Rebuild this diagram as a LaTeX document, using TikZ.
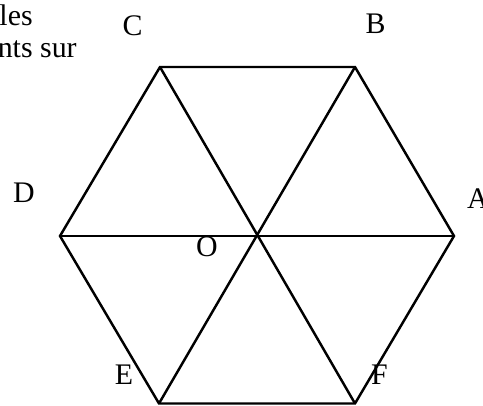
\documentclass[tikz,border=0pt]{standalone}
\usepackage{fontspec}
\setmainfont{Liberation Serif}
\usepackage{tikz}

\begin{document}
\begin{tikzpicture}[
    edge/.style={line width=1.4pt, line join=miter},
    vlabel/.style={font=\fontsize{17}{20}\selectfont, inner sep=0pt},
    cuttext/.style={font=\fontsize{17}{20}\selectfont, inner sep=0pt, anchor=base east},
]
\useasboundingbox (0,0) rectangle (9.66,8.10);

% === VERTICES ===
\coordinate (A) at (9.08,3.38);
\coordinate (B) at (7.10,6.76);
\coordinate (C) at (3.20,6.76);
\coordinate (D) at (1.20,3.38);
\coordinate (E) at (3.18,0.03);
\coordinate (F) at (7.10,0.03);
\coordinate (O) at (5.14,3.38);

% === HEXAGON AND DIAGONALS ===
\draw[edge] (A) -- (B) -- (C) -- (D) -- (E) -- (F) -- cycle;
\draw[edge] (A) -- (D);
\draw[edge] (B) -- (E);
\draw[edge] (C) -- (F);

% === LABELS ===
\node[vlabel] (labA) at (9.56,4.12) {A};
\node[vlabel] (labB) at (7.51,7.62) {B};
\node[vlabel] (labC) at (2.65,7.58) {C};
\node[vlabel] (labD) at (0.48,4.25) {D};
\node[vlabel] (labE) at (2.48,0.61) {E};
\node[vlabel] (labF) at (7.59,0.61) {F};
\node[vlabel] (labO) at (4.14,3.16) {O};

% text cut at the left edge
\node[cuttext] (line1) at (0.66,7.60) {les};
\node[cuttext] (line2) at (1.54,6.96) {nts sur};

\end{tikzpicture}
\end{document}
